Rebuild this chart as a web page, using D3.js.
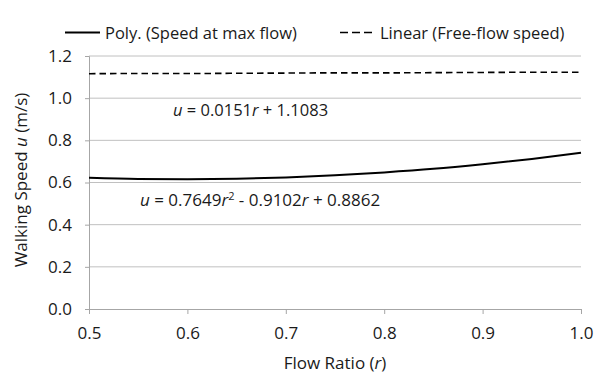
<!DOCTYPE html>
<html>
<head>
<meta charset="utf-8">
<script src="https://cdn.jsdelivr.net/npm/d3@7/dist/d3.min.js"></script>
<style>
  html, body { margin: 0; padding: 0; background: #fff; }
  svg text { font-family: "Open Sans", "Liberation Sans", sans-serif; fill: #1a1a1a; }
</style>
</head>
<body>
<svg id="chart" width="595" height="372"></svg>
<script>
// Flow ratio samples and walking speeds (m/s)
const flowRatio = [0.50, 0.55, 0.60, 0.65, 0.70, 0.75, 0.80, 0.85, 0.90, 0.95, 1.00];
const speedAtMaxFlow = [0.622, 0.617, 0.616, 0.618, 0.624, 0.634, 0.648, 0.665, 0.687, 0.712, 0.741];
const freeFlowSpeed = [1.116, 1.117, 1.117, 1.118, 1.119, 1.120, 1.120, 1.121, 1.122, 1.123, 1.123];
const xTicks = [0.5, 0.6, 0.7, 0.8, 0.9, 1.0];
const yTicks = [0.0, 0.2, 0.4, 0.6, 0.8, 1.0, 1.2];
const seriesNames = ["Poly. (Speed at max flow)", "Linear (Free-flow speed)"];

const svg = d3.select("#chart");
const margin = { left: 89, right: 14, top: 56, bottom: 63 };
const W = 595, H = 372;
const FS = "17px";

const x = d3.scaleLinear().domain([0.5, 1.0]).range([margin.left, W - margin.right]);
const y = d3.scaleLinear().domain([0, 1.2]).range([H - margin.bottom, margin.top]);

// gridlines
svg.append("g")
  .selectAll("line")
  .data(yTicks.filter(d => d > 0))
  .join("line")
  .attr("x1", x(0.5)).attr("x2", x(1.0))
  .attr("y1", d => y(d)).attr("y2", d => y(d))
  .attr("stroke", "#c0c0c0").attr("stroke-width", 1);

// x axis
const xAxis = svg.append("g")
  .attr("transform", `translate(0,${y(0)})`)
  .call(d3.axisBottom(x).tickValues(xTicks).tickFormat(d3.format(".1f")).tickSize(5).tickPadding(13));
// y axis
const yAxis = svg.append("g")
  .attr("transform", `translate(${x(0.5)},0)`)
  .call(d3.axisLeft(y).tickValues(yTicks).tickFormat(d3.format(".1f")).tickSize(4).tickPadding(13));

[xAxis, yAxis].forEach(g => {
  g.select(".domain").attr("stroke", "#a6a6a6").attr("stroke-width", 1);
  g.selectAll(".tick line").attr("stroke", "#a6a6a6");
  g.selectAll(".tick text").style("font-size", FS).attr("fill", "#1a1a1a");
});

// series
const line = d3.line().x((d, i) => x(flowRatio[i])).y(d => y(d)).curve(d3.curveMonotoneX);

svg.append("path")
  .datum(freeFlowSpeed)
  .attr("d", line)
  .attr("fill", "none").attr("stroke", "#000").attr("stroke-width", 1.6)
  .attr("stroke-dasharray", "6.5,4");

svg.append("path")
  .datum(speedAtMaxFlow)
  .attr("d", line)
  .attr("fill", "none").attr("stroke", "#000").attr("stroke-width", 2);

// trendline equations
const eq1 = svg.append("text").attr("x", 173).attr("y", 116).style("font-size", "16.5px");
eq1.append("tspan").attr("font-style", "italic").text("u");
eq1.append("tspan").text(" = 0.0151");
eq1.append("tspan").attr("font-style", "italic").text("r");
eq1.append("tspan").text(" + 1.1083");

const eq2 = svg.append("text").attr("x", 140).attr("y", 206).style("font-size", FS);
eq2.append("tspan").attr("font-style", "italic").text("u");
eq2.append("tspan").text(" = 0.7649");
eq2.append("tspan").attr("font-style", "italic").text("r");
eq2.append("tspan").attr("dy", -6).style("font-size", "11px").text("2");
eq2.append("tspan").attr("dy", 6).text(" - 0.9102");
eq2.append("tspan").attr("font-style", "italic").text("r");
eq2.append("tspan").text(" + 0.8862");

// axis titles
const xt = svg.append("text").attr("x", 335).attr("y", 368.5).attr("text-anchor", "middle").style("font-size", FS);
xt.append("tspan").text("Flow Ratio (");
xt.append("tspan").attr("font-style", "italic").text("r");
xt.append("tspan").text(")");

const yt = svg.append("text")
  .attr("transform", "translate(27,180) rotate(-90)")
  .attr("text-anchor", "middle").style("font-size", FS);
yt.append("tspan").text("Walking Speed ");
yt.append("tspan").attr("font-style", "italic").text("u");
yt.append("tspan").text(" (m/s)");

// legend
const legend = [
  { name: seriesNames[0], x0: 65, x1: 100, dash: null },
  { name: seriesNames[1], x0: 340, x1: 372, dash: "8,4" }
];
legend.forEach(l => {
  svg.append("line")
    .attr("x1", l.x0).attr("x2", l.x1)
    .attr("y1", 32.5).attr("y2", 32.5)
    .attr("stroke", "#000").attr("stroke-width", l.dash ? 1.6 : 2)
    .attr("stroke-dasharray", l.dash);
  svg.append("text")
    .attr("x", l.x1 + (l.dash ? 8 : 5)).attr("y", 39)
    .style("font-size", "16.5px")
    .text(l.name);
});
</script>
</body>
</html>
